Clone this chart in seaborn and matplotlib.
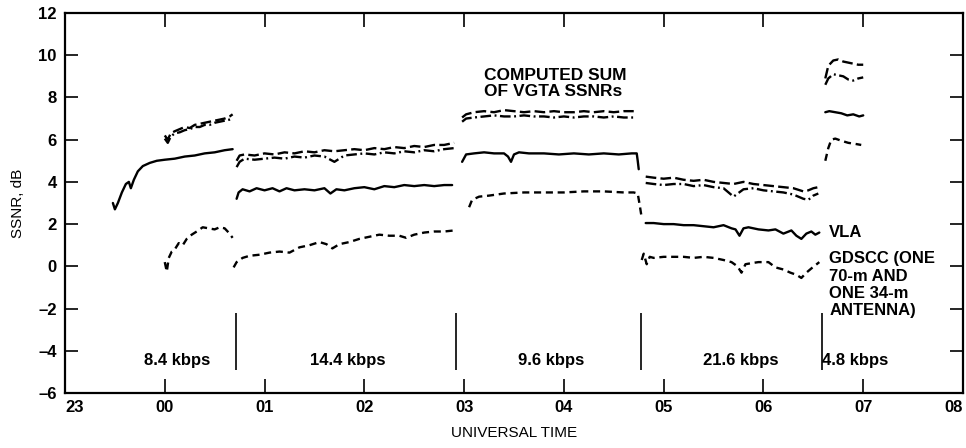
import numpy as np
import pandas as pd
import matplotlib
matplotlib.use("Agg")
import matplotlib.pyplot as plt
import seaborn as sns

# ---------------- data (hours relative to 00 UT) ----------------
HOUR_TICKS = [-1, 0, 1, 2, 3, 4, 5, 6, 7, 8]
HOUR_LABELS = ["23", "00", "01", "02", "03", "04", "05", "06", "07", "08"]
SNR_TICKS = [-6, -4, -2, 0, 2, 4, 6, 8, 10, 12]

# Upper long-dashed sum curve, one list per data-rate segment
SUMA_T = [
    [0.0, 0.03, 0.06, 0.1, 0.15, 0.2, 0.25, 0.3, 0.35, 0.4, 0.45, 0.5, 0.55, 0.6, 0.65, 0.68],
    [0.72, 0.75, 0.8, 0.9, 1.0, 1.1, 1.2, 1.3, 1.4, 1.5, 1.6, 1.7, 1.8, 1.9, 2.0, 2.1, 2.2, 2.3, 2.4, 2.5, 2.6, 2.7, 2.8, 2.9],
    [2.98, 3.02, 3.1, 3.2, 3.3, 3.4, 3.5, 3.6, 3.7, 3.8, 3.9, 4.0, 4.1, 4.2, 4.3, 4.4, 4.5, 4.6, 4.7],
    [4.82, 4.9, 5.0, 5.1, 5.2, 5.3, 5.4, 5.5, 5.6, 5.7, 5.8, 5.9, 6.0, 6.1, 6.2, 6.3, 6.4, 6.45, 6.5, 6.55],
    [6.62, 6.65, 6.7, 6.75, 6.8, 6.85, 6.9, 6.95, 7.0],
]
SUMA_Y = [
    [6.2, 6.0, 6.3, 6.4, 6.5, 6.6, 6.55, 6.7, 6.75, 6.8, 6.85, 6.9, 6.95, 7.0, 7.1, 7.2],
    [5.0, 5.25, 5.3, 5.25, 5.35, 5.3, 5.4, 5.35, 5.45, 5.4, 5.5, 5.45, 5.5, 5.55, 5.5, 5.6, 5.55, 5.65, 5.6, 5.7, 5.65, 5.75, 5.75, 5.85],
    [7.05, 7.2, 7.3, 7.35, 7.3, 7.4, 7.35, 7.3, 7.35, 7.3, 7.35, 7.3, 7.3, 7.35, 7.3, 7.35, 7.3, 7.35, 7.35],
    [4.25, 4.2, 4.15, 4.2, 4.1, 4.05, 4.1, 4.0, 3.95, 3.9, 4.0, 3.9, 3.85, 3.8, 3.75, 3.7, 3.55, 3.6, 3.7, 3.75],
    [8.9, 9.5, 9.75, 9.8, 9.7, 9.65, 9.6, 9.55, 9.55],
]
# Lower dash-dot sum curve (same time samples)
SUMB_Y = [
    [6.05, 5.85, 6.15, 6.3, 6.35, 6.45, 6.5, 6.6, 6.6, 6.7, 6.7, 6.8, 6.85, 6.9, 6.95, 7.0],
    [4.7, 4.95, 5.1, 5.05, 5.1, 5.15, 5.1, 5.2, 5.15, 5.25, 5.2, 4.95, 5.25, 5.3, 5.35, 5.3, 5.4, 5.35, 5.45, 5.4, 5.5, 5.45, 5.55, 5.6],
    [6.85, 7.0, 7.05, 7.1, 7.15, 7.1, 7.1, 7.15, 7.1, 7.1, 7.05, 7.1, 7.05, 7.1, 7.1, 7.05, 7.1, 7.05, 7.05],
    [3.95, 3.9, 3.85, 3.9, 3.9, 3.8, 3.85, 3.75, 3.7, 3.3, 3.65, 3.7, 3.6, 3.55, 3.5, 3.4, 3.2, 3.15, 3.35, 3.45],
    [8.6, 8.9, 9.1, 9.05, 9.0, 8.85, 8.8, 8.9, 8.95],
]

# VLA (solid)
VLA_T = [
    [-0.52, -0.5, -0.47, -0.43, -0.39, -0.36, -0.34, -0.31, -0.27, -0.22, -0.15, -0.08, 0.0, 0.1, 0.2, 0.3, 0.4, 0.5, 0.6, 0.68],
    [0.72, 0.74, 0.78, 0.85, 0.92, 1.0, 1.08, 1.15, 1.22, 1.3, 1.4, 1.5, 1.6, 1.66, 1.72, 1.8, 1.9, 2.0, 2.1, 2.2, 2.3, 2.4, 2.5, 2.6, 2.7, 2.8, 2.88],
    [2.98, 3.02, 3.1, 3.2, 3.3, 3.4, 3.44, 3.47, 3.5, 3.55, 3.65, 3.8, 3.95, 4.1, 4.25, 4.4, 4.55, 4.68, 4.73, 4.74, 4.75],
    [4.82, 4.9, 5.0, 5.1, 5.2, 5.3, 5.4, 5.5, 5.6, 5.68, 5.72, 5.76, 5.8, 5.85, 5.95, 6.05, 6.12, 6.2, 6.28, 6.33, 6.38, 6.43, 6.48, 6.52, 6.56],
    [6.62, 6.66, 6.72, 6.78, 6.84, 6.9, 6.96, 7.0],
]
VLA_Y = [
    [3.0, 2.7, 3.0, 3.5, 3.9, 4.0, 3.7, 4.1, 4.5, 4.75, 4.9, 5.0, 5.05, 5.1, 5.2, 5.25, 5.35, 5.4, 5.5, 5.55],
    [3.2, 3.5, 3.65, 3.55, 3.7, 3.6, 3.7, 3.55, 3.7, 3.6, 3.65, 3.6, 3.7, 3.45, 3.65, 3.6, 3.7, 3.75, 3.65, 3.8, 3.75, 3.85, 3.8, 3.85, 3.8, 3.85, 3.85],
    [4.95, 5.3, 5.35, 5.4, 5.35, 5.35, 5.2, 4.95, 5.3, 5.4, 5.35, 5.35, 5.3, 5.35, 5.3, 5.35, 5.3, 5.35, 5.35, 5.0, 4.6],
    [2.05, 2.05, 2.0, 2.0, 1.95, 1.95, 1.9, 1.85, 1.95, 1.8, 1.75, 1.45, 1.8, 1.85, 1.75, 1.7, 1.75, 1.55, 1.7, 1.45, 1.3, 1.55, 1.65, 1.5, 1.6],
    [7.3, 7.35, 7.3, 7.25, 7.15, 7.2, 7.1, 7.15],
]

# GDSCC (short dashes)
GDSCC_T = [
    [0.0, 0.02, 0.04, 0.07, 0.1, 0.14, 0.18, 0.22, 0.27, 0.32, 0.38, 0.44, 0.5, 0.55, 0.6, 0.64, 0.68],
    [0.69, 0.72, 0.78, 0.85, 0.95, 1.05, 1.15, 1.25, 1.35, 1.45, 1.55, 1.62, 1.68, 1.75, 1.85, 1.95, 2.05, 2.15, 2.25, 2.35, 2.42, 2.5, 2.6, 2.7, 2.8, 2.9],
    [3.05, 3.08, 3.15, 3.25, 3.4, 3.6, 3.8, 4.0, 4.2, 4.4, 4.6, 4.7, 4.74, 4.76, 4.78],
    [4.78, 4.8, 4.83, 4.86, 4.9, 5.0, 5.1, 5.2, 5.3, 5.4, 5.5, 5.6, 5.68, 5.74, 5.78, 5.82, 5.88, 5.95, 6.05, 6.12, 6.2, 6.27, 6.33, 6.38, 6.43, 6.48, 6.52, 6.56],
    [6.62, 6.65, 6.68, 6.72, 6.78, 6.85, 6.92, 6.98],
]
GDSCC_Y = [
    [0.2, -0.25, 0.4, 0.7, 0.8, 1.1, 1.0, 1.3, 1.5, 1.65, 1.85, 1.8, 1.75, 1.85, 1.8, 1.6, 1.35],
    [-0.05, 0.2, 0.4, 0.5, 0.55, 0.65, 0.7, 0.65, 0.9, 1.0, 1.15, 1.05, 0.85, 1.05, 1.15, 1.3, 1.4, 1.5, 1.45, 1.45, 1.35, 1.5, 1.6, 1.65, 1.65, 1.7],
    [2.8, 3.15, 3.3, 3.35, 3.45, 3.5, 3.5, 3.5, 3.55, 3.55, 3.5, 3.5, 3.45, 2.9, 2.3],
    [0.3, 0.6, 0.1, 0.45, 0.4, 0.45, 0.45, 0.45, 0.4, 0.45, 0.4, 0.3, 0.2, 0.0, -0.3, 0.1, 0.15, 0.2, 0.2, -0.05, -0.15, -0.3, -0.4, -0.55, -0.3, -0.1, 0.05, 0.2],
    [5.0, 5.6, 6.0, 6.05, 5.95, 5.85, 5.8, 5.75],
]

RATE_BOUNDARIES = [0.71, 2.92, 4.77, 6.59]
RATE_LABELS = ["8.4 kbps", "14.4 kbps", "9.6 kbps", "21.6 kbps", "4.8 kbps"]
RATE_LABEL_X = [0.12, 1.83, 3.87, 5.77, 6.92]

# ---------------- build long-form table ----------------
rows = []
for name, T, Y in [("sum_a", SUMA_T, SUMA_Y), ("sum_b", SUMA_T, SUMB_Y),
                   ("vla", VLA_T, VLA_Y), ("gdscc", GDSCC_T, GDSCC_Y)]:
    for k, (ts, ys) in enumerate(zip(T, Y)):
        for t, y in zip(ts, ys):
            rows.append((name, k, t, y))
df = pd.DataFrame(rows, columns=["series", "seg", "t", "snr"])

# ---------------- figure ----------------
sns.set_style("ticks")
plt.rcParams["font.family"] = ["Liberation Sans", "DejaVu Sans"]
plt.rcParams["text.color"] = "black"
plt.rcParams["axes.labelcolor"] = "black"
plt.rcParams["xtick.color"] = "black"
plt.rcParams["ytick.color"] = "black"

fig = plt.figure(figsize=(9.66, 4.48), dpi=100)
ax = fig.add_axes([65 / 966, 55 / 448, 898 / 966, 380 / 448])

styles = {
    "sum_a": (0, (4.5, 1.8)),
    "sum_b": (0, (4.5, 1.5, 0.8, 1.5)),
    "vla": "solid",
    "gdscc": (0, (3.0, 2.0)),
}
for name, ls in styles.items():
    sns.lineplot(data=df[df["series"] == name], x="t", y="snr", units="seg",
                 estimator=None, sort=False, color="black", lw=1.7,
                 linestyle=ls, legend=False, ax=ax)

ax.vlines(RATE_BOUNDARIES, -4.9, -2.2, color="black", lw=1.2)
for lab, x in zip(RATE_LABELS, RATE_LABEL_X):
    ax.text(x, -4.45, lab, ha="center", va="center", fontsize=12, fontweight="bold")

ax.text(3.2, 8.65, "COMPUTED SUM\nOF VGTA SSNRs", ha="left", va="center",
        fontsize=12.5, fontweight="bold", linespacing=1.05)
ax.text(6.66, 1.6, "VLA", ha="left", va="center", fontsize=12, fontweight="bold")
ax.text(6.66, 0.72, "GDSCC (ONE\n70-m AND\nONE 34-m\nANTENNA)", ha="left", va="top",
        fontsize=12, fontweight="bold", linespacing=1.2)

ax.set_xlim(-1, 8)
ax.set_ylim(-6, 12)
ax.set_xticks(HOUR_TICKS)
ax.set_xticklabels(HOUR_LABELS)
ax.set_yticks(SNR_TICKS)
ax.set_yticklabels([str(v).replace("-", "\u2013") for v in SNR_TICKS])
ax.tick_params(axis="x", direction="in", top=True, length=10, width=1.2, pad=5,
               labelsize=12)
ax.tick_params(axis="y", direction="in", right=True, length=9.5, width=1.2, pad=6,
               labelsize=12)
for lab in ax.get_xticklabels() + ax.get_yticklabels():
    lab.set_fontweight("bold")
ax.get_xticklabels()[-1].set_horizontalalignment("right")
ax.get_xticklabels()[0].set_horizontalalignment("left")
for sp in ax.spines.values():
    sp.set_linewidth(1.6)
    sp.set_color("black")

ax.set_xlabel("UNIVERSAL TIME", fontsize=11)
ax.set_ylabel("SSNR, dB", fontsize=11)
ax.xaxis.set_label_coords(0.5, -0.087)
ax.yaxis.set_label_coords(-0.045, 0.5)

fig.savefig("out.png", dpi=100)
